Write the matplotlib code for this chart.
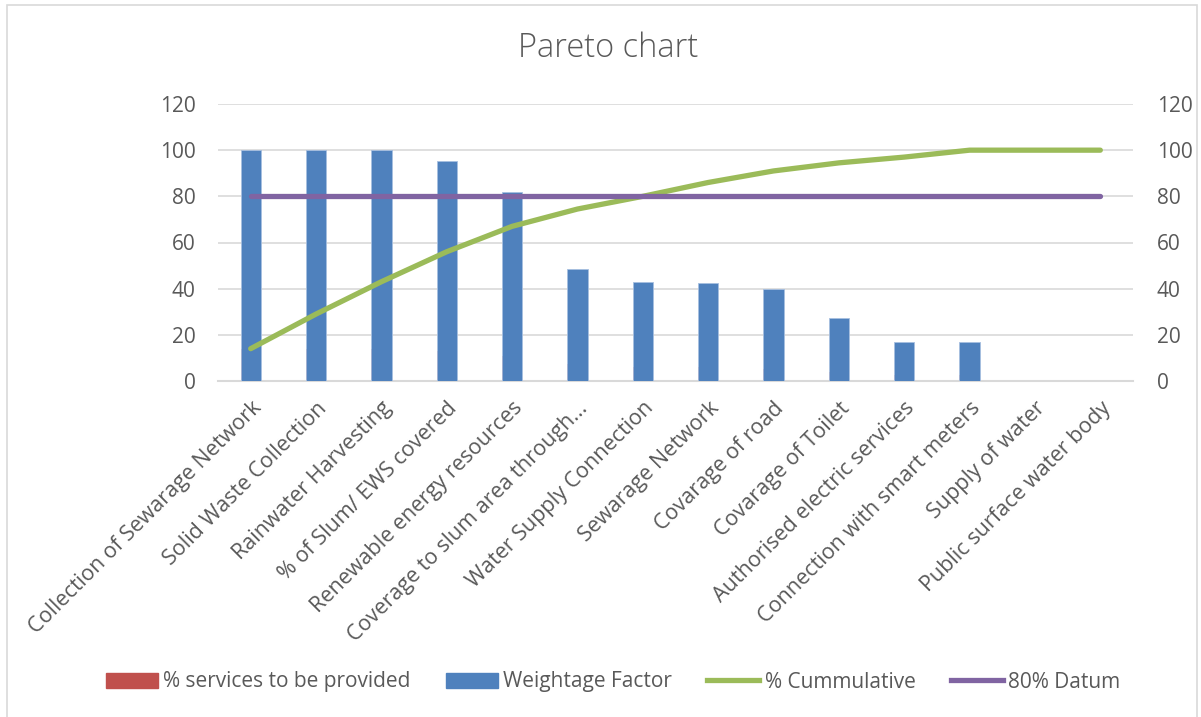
import matplotlib
matplotlib.use("Agg")
import matplotlib.pyplot as plt
from matplotlib.patches import Patch, Rectangle
from matplotlib.lines import Line2D
import numpy as np

# ---- data ----
categories = ["Collection of Sewarage Network", "Solid Waste Collection",
              "Rainwater Harvesting", "% of Slum/ EWS covered",
              "Renewable energy resources", "Coverage to slum area through...",
              "Water Supply Connection", "Sewarage Network", "Covarage of road",
              "Covarage of Toilet", "Authorised electric services",
              "Connection with smart meters", "Supply of water",
              "Public surface water body"]
services_pct = [14, 14, 14, 13, 11, 7.5, 6, 6, 5, 4, 2.5, 2.5, 0, 0]
weightage = [100, 100, 100, 95.5, 82, 48.5, 43, 42.5, 40, 27.5, 17, 17, 0, 0]
cumulative = [14, 29, 43, 56, 67, 74.5, 80, 86, 91, 94.5, 97, 100, 100, 100]
datum = [80] * len(categories)
yticks = [0, 20, 40, 60, 80, 100, 120]

RED = "#c0504d"
BLUE = "#4f81bd"
GREEN = "#9bbb59"
PURPLE = "#8064a2"
TXT = "#595959"
GRID = "#d9d9d9"

W, H = 1201, 717
fig = plt.figure(figsize=(W / 100, H / 100), dpi=100)

# outer chart border
fig.patches.append(Rectangle((7 / W, -0.01), 1190 / W, 1 - 5 / H + 0.01,
                             transform=fig.transFigure, fill=False,
                             edgecolor=GRID, linewidth=1.2))

left, right, top, bottom = 218, 1133, 104, 381
ax = fig.add_axes([left / W, 1 - bottom / H, (right - left) / W, (bottom - top) / H])
x = np.arange(len(categories))

ax.bar(x, services_pct, width=0.31, color=RED, zorder=2)
ax.bar(x, weightage, width=0.31, color=BLUE, edgecolor="#a7bfe0",
       linewidth=0.6, zorder=3)

ax.set_xlim(-0.5, len(categories) - 0.5)
ax.set_ylim(0, 120)
ax.set_yticks(yticks)
ax.grid(axis="y", color=GRID, linewidth=1.2, zorder=0)
ax.set_axisbelow(True)
for s in ["top", "right", "left"]:
    ax.spines[s].set_visible(False)
ax.spines["bottom"].set_color(GRID)
ax.spines["bottom"].set_linewidth(1.5)
ax.tick_params(axis="both", length=0, colors=TXT)
ax.tick_params(axis="y", labelsize=15, pad=16)
for t in ax.get_yticklabels():
    t.set_family("Open Sans")

ax.set_xticks(x)
ax.set_xticklabels(categories, rotation=45, ha="right", va="top",
                   rotation_mode="anchor", fontsize=15.5, color=TXT,
                   family="Open Sans")
ax.tick_params(axis="x", pad=12)

ax2 = ax.twinx()
ax2.set_ylim(0, 120)
ax2.set_yticks(yticks)
for s in ["top", "right", "left", "bottom"]:
    ax2.spines[s].set_visible(False)
ax2.tick_params(axis="y", length=0, colors=TXT, labelsize=15, pad=17)
for t in ax2.get_yticklabels():
    t.set_family("Open Sans")
ax2.plot(x, cumulative, color=GREEN, linewidth=3.8, solid_capstyle="round", zorder=4)
ax2.plot(x, datum, color=PURPLE, linewidth=3.8, solid_capstyle="round", zorder=4)

fig.text(608 / W, 1 - 48 / H, "Pareto chart", ha="center", va="center",
         fontsize=23.5, color=TXT, family="Open Sans", weight="light")

handles = [Patch(color=RED), Patch(color=BLUE),
           Line2D([], [], color=GREEN, linewidth=3.8),
           Line2D([], [], color=PURPLE, linewidth=3.8)]
labels = ["% services to be provided", "Weightage Factor", "% Cummulative", "80% Datum"]
leg = fig.legend(handles, labels, loc="center", ncol=4, frameon=False,
                 bbox_to_anchor=(613 / W, 1 - 682 / H),
                 handlelength=2.5, handleheight=0.7, columnspacing=1.7,
                 handletextpad=0.25, prop={"family": "Open Sans", "size": 15})
for t in leg.get_texts():
    t.set_color(TXT)

fig.savefig("out.png", dpi=100)
